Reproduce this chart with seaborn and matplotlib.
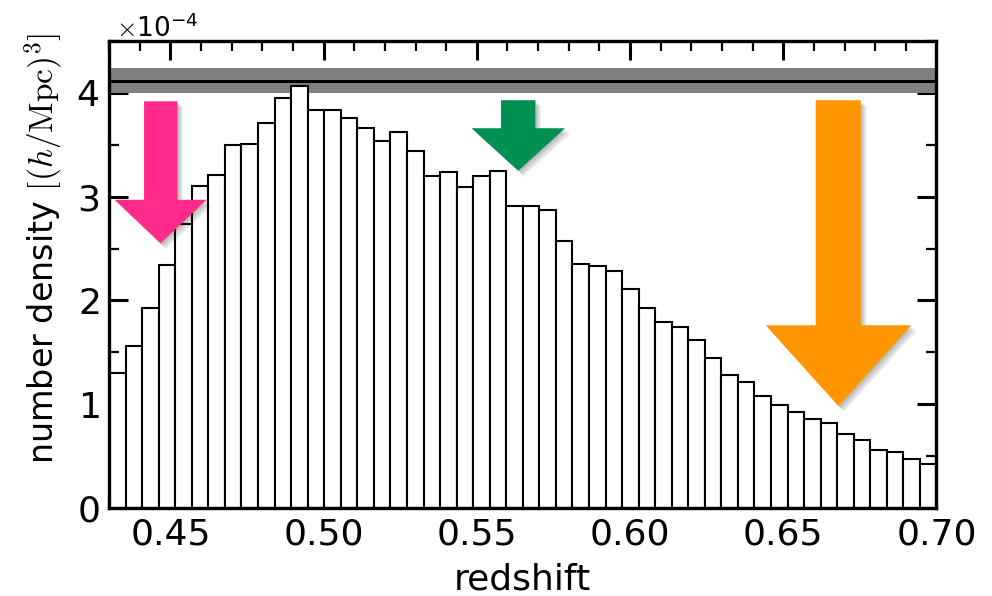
import numpy as np
import pandas as pd
import matplotlib
matplotlib.use("Agg")
import matplotlib.pyplot as plt
import matplotlib.patheffects as pe
from matplotlib.patches import Polygon
from matplotlib.ticker import MultipleLocator, ScalarFormatter
import seaborn as sns

# Histogram bin range (redshift) and number density per bin, in units of 1e-4 (h/Mpc)^3
z_min, z_max, n_bins = 0.43, 0.70, 50
density_e4 = [
    1.30, 1.56, 1.93, 2.34, 2.74, 3.10, 3.21, 3.50, 3.51, 3.71,
    3.95, 4.07, 3.84, 3.84, 3.76, 3.66, 3.54, 3.62, 3.44, 3.20,
    3.24, 3.09, 3.20, 3.25, 2.91, 2.91, 2.87, 2.57, 2.35, 2.33,
    2.28, 2.11, 1.93, 1.79, 1.74, 1.62, 1.44, 1.28, 1.21, 1.08,
    0.99, 0.92, 0.86, 0.82, 0.71, 0.65, 0.56, 0.535, 0.47, 0.42,
]
# Reference density level and its uncertainty band (units of 1e-4)
ref_level_e4 = 4.12
ref_band_e4 = (4.00, 4.24)

xticks = [0.45, 0.50, 0.55, 0.60, 0.65, 0.70]
xtick_labels = ["0.45", "0.50", "0.55", "0.60", "0.65", "0.70"]
yticks_e4 = [0, 1, 2, 3, 4]

edges = np.linspace(z_min, z_max, n_bins + 1)
centers = 0.5 * (edges[:-1] + edges[1:])
df = pd.DataFrame({"z": centers, "n": np.array(density_e4) * 1e-4})

sns.set_style("white")
plt.rcParams["mathtext.fontset"] = "cm"
plt.rcParams["font.family"] = ["DejaVu Sans"]
plt.rcParams["text.color"] = "black"
plt.rcParams["axes.labelcolor"] = "black"

fig = plt.figure(figsize=(9.92, 5.96), dpi=100)
ax = fig.add_axes([0.110, 0.148, 0.834, 0.783])

ax.axhspan(ref_band_e4[0] * 1e-4, ref_band_e4[1] * 1e-4, color="#808080", lw=0, zorder=1)
ax.axhline(ref_level_e4 * 1e-4, color="black", lw=2.2, zorder=2)

sns.histplot(data=df, x="z", weights="n", bins=n_bins, binrange=(z_min, z_max),
             stat="count", color="white", edgecolor="black", linewidth=1.5,
             alpha=1.0, ax=ax, zorder=3)

ax.set_xlim(z_min, z_max)
ax.set_ylim(0, 4.5e-4)

# Down arrows marking redshift slices, with a soft grey drop shadow
shadow = [pe.SimplePatchShadow(offset=(d, -d), shadow_rgbFace="black", alpha=0.07)
          for d in (1, 2, 3, 4)]

def down_arrow(ax, shaft, head, top, neck, tip_y, color):
    x0, x1 = shaft
    h0, h1 = head
    xt = 0.5 * (h0 + h1)
    verts = [(x0, top), (x1, top), (x1, neck), (h1, neck), (xt, tip_y),
             (h0, neck), (x0, neck)]
    p = Polygon(verts, closed=True, facecolor=color, edgecolor="none", zorder=5)
    p.set_path_effects(shadow + [pe.Normal()])
    ax.add_patch(p)

down_arrow(ax, (0.4414, 0.4523), (0.4318, 0.4618), 3.92e-4, 2.97e-4, 2.55e-4, "#FF2A8A")
down_arrow(ax, (0.5579, 0.5691), (0.5483, 0.5788), 3.93e-4, 3.66e-4, 3.25e-4, "#009051")
down_arrow(ax, (0.6606, 0.6753), (0.6443, 0.6918), 3.93e-4, 1.76e-4, 0.98e-4, "#FF9500")

ax.set_xticks(xticks)
ax.set_xticklabels(xtick_labels)
ax.xaxis.set_minor_locator(MultipleLocator(0.01))
ax.set_yticks([v * 1e-4 for v in yticks_e4])
ax.yaxis.set_minor_locator(MultipleLocator(0.5e-4))

fmt = ScalarFormatter(useMathText=True)
fmt.set_powerlimits((-3, 3))
ax.yaxis.set_major_formatter(fmt)
ax.yaxis.get_offset_text().set_fontsize(19)
ax.yaxis.get_offset_text().set_x(0.008)

ax.tick_params(which="both", direction="in", top=True, right=True,
               bottom=True, left=True, colors="black")
ax.tick_params(which="major", length=14, width=2.2, labelsize=26, pad=7)
ax.tick_params(which="minor", length=7, width=1.6)
for s in ax.spines.values():
    s.set_linewidth(2.4)
    s.set_color("black")
    s.set_zorder(10)

ax.set_xlabel("redshift", fontsize=26, labelpad=8)
ax.set_ylabel(r"number density $[(h/\mathrm{Mpc})^3]$", fontsize=24)
ax.yaxis.set_label_coords(-0.053, 0.555)

fig.savefig("out.png", dpi=100)
